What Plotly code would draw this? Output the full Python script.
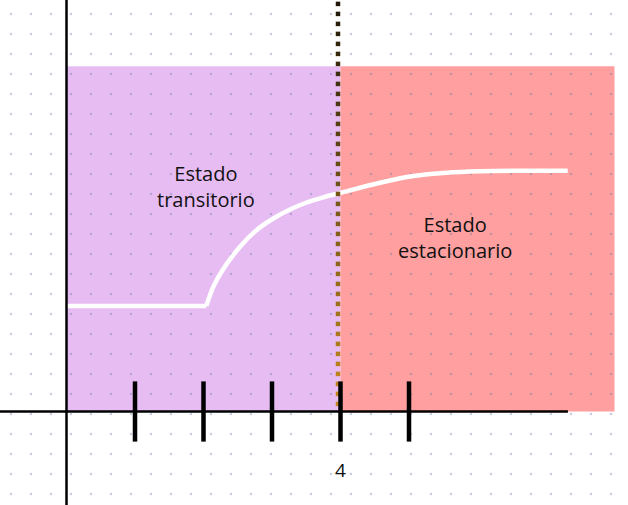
import numpy as np
import plotly.graph_objects as go

# ---------------- data ----------------
tick_values = [1, 2, 3, 4, 5]
tick_label_values = [4]
tick_label_texts = ["4"]
divider_x = 4
region_x0 = [0, 4]
region_x1 = [4, 8]
region_top = 5.04
region_colors = ["#e7bcf3", "#ff9f9f"]
region_labels = ["Estado<br>transitorio", "Estado<br>estacionario"]
region_label_x = [2.034, 5.672]
region_label_y = [3.29, 2.54]
axis_x_end = 7.32

flat_x = [0, 2.04]
flat_y = [1.54, 1.54]
curve_x = [2.04, 2.143, 2.289, 2.533, 2.777, 3.019, 3.263, 3.507, 3.749, 3.993,
           4.577, 5.063, 5.55, 6.036, 6.518, 7.317]
curve_y = [1.54, 1.822, 2.08, 2.406, 2.65, 2.818, 2.949, 3.051, 3.127, 3.19,
           3.34, 3.438, 3.486, 3.507, 3.514, 3.514]

# ---------------- geometry (pixel mapping) ----------------
W, H = 628, 505
unit = 68.5
x0_px, y0_px = 66.5, 411.5
x_range = [-x0_px / unit, (W - x0_px) / unit]
y_range = [(y0_px - H) / unit, y0_px / unit]

def px_to_x(p):
    return (np.asarray(p) - x0_px) / unit

def px_to_y(p):
    return (y0_px - np.asarray(p)) / unit

fig = go.Figure()

# dot grid background
gx, gy = np.meshgrid(np.arange(11, W, 20), np.arange(14, H, 20))
fig.add_trace(go.Scatter(
    x=px_to_x(gx.ravel()), y=px_to_y(gy.ravel()), mode="markers",
    marker=dict(symbol="square", size=2.2, color="rgba(105,125,160,0.38)", line=dict(width=0)),
    hoverinfo="skip", showlegend=False))

# shaded regions
for a, b, c in zip(region_x0, region_x1, region_colors):
    fig.add_shape(type="rect", x0=a, x1=b, y0=0, y1=region_top,
                  fillcolor=c, line=dict(width=0), layer="below")

# axes
fig.add_shape(type="line", x0=0, x1=0, y0=y_range[0], y1=y_range[1],
              line=dict(color="black", width=2.5), layer="above")
fig.add_shape(type="line", x0=x_range[0], x1=axis_x_end, y0=0, y1=0,
              line=dict(color="black", width=2.5), layer="above")

# response curve
fig.add_trace(go.Scatter(x=flat_x, y=flat_y, mode="lines",
                         line=dict(color="white", width=4.5),
                         hoverinfo="skip", showlegend=False))
fig.add_trace(go.Scatter(x=curve_x, y=curve_y, mode="lines",
                         line=dict(color="white", width=4.5, shape="spline", smoothing=0.9),
                         hoverinfo="skip", showlegend=False))

# dotted divider (gradient dark -> gold)
dy = px_to_y(np.arange(3.9, y0_px - 2, 10))
fig.add_trace(go.Scatter(
    x=[divider_x - 2.5 / unit] * len(dy), y=dy, mode="markers",
    marker=dict(symbol="square", size=4.5, color=dy, cmin=0, cmax=y_range[1],
                colorscale=[[0, "#c98a1c"], [0.5, "#7a5816"], [1, "#1e1608"]],
                line=dict(width=0)),
    hoverinfo="skip", showlegend=False))

# tick marks
fig.add_trace(go.Scatter(
    x=tick_values, y=[0] * len(tick_values), mode="markers",
    marker=dict(symbol="line-ns", size=43, line=dict(color="black", width=4.5)),
    hoverinfo="skip", showlegend=False))

# labels
for t, x, y in zip(region_labels, region_label_x, region_label_y):
    fig.add_annotation(x=x, y=y, text=t, showarrow=False,
                       font=dict(family="Open Sans", size=20, color="#111111"))
for v, t in zip(tick_label_values, tick_label_texts):
    fig.add_annotation(x=v, y=px_to_y(470), text=t, showarrow=False,
                       font=dict(family="Open Sans", size=19, color="#111111"))

fig.update_layout(
    width=W, height=H, margin=dict(l=0, r=0, t=0, b=0),
    paper_bgcolor="white", plot_bgcolor="white",
    xaxis=dict(range=x_range, visible=False, fixedrange=True),
    yaxis=dict(range=y_range, visible=False, fixedrange=True),
    showlegend=False, hovermode=False,
)
fig.write_html("out.html", config={"displayModeBar": False},
               post_script="document.body.style.margin='0px';")
